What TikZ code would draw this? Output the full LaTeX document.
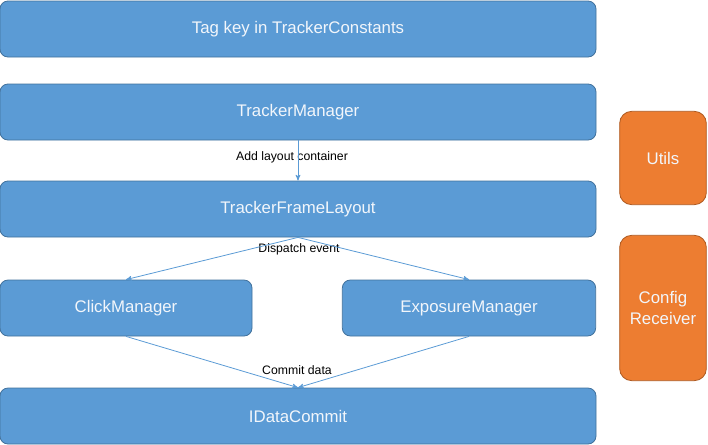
\documentclass[tikz,border=0pt]{standalone}
\usepackage{fontspec}
\setmainfont{Liberation Sans}
\usepackage{xcolor}
\usetikzlibrary{arrows}
\definecolor{boxblue}{HTML}{5B9BD5}
\definecolor{lineblue}{HTML}{41719C}
\definecolor{boxorange}{HTML}{ED7D31}
\definecolor{lineorange}{HTML}{AE5A21}
\definecolor{boxtext}{HTML}{F2F6FB}

\begin{document}
\begin{tikzpicture}[->,>=stealth',x=0.75pt,y=-0.75pt,thin]
                \tikzset{layer/.style={draw=lineblue, fill=boxblue, rounded corners=6pt, text=boxtext, font=\fontsize{12.6}{15}\selectfont, minimum height=42pt, inner sep=0pt, line width=0.6pt},
                         side/.style={draw=lineorange, fill=boxorange, rounded corners=9pt, text=boxtext, font=\fontsize{12.6}{16}\selectfont, minimum width=65pt, align=center, inner sep=0pt, line width=0.6pt},
                         flow/.style={draw=boxblue, line width=0.6pt},
                         note/.style={font=\fontsize{9.2}{11}\selectfont, text=black, inner sep=1pt}}
                \useasboundingbox (0,0) rectangle (708,444);
                \node[layer, minimum width=447pt] (K) at (298,29) {Tag key in TrackerConstants};
                \node[layer, minimum width=447pt] (M) at (298,112) {TrackerManager};
                \node[layer, minimum width=447pt] (F) at (298,209) {TrackerFrameLayout};
                \node[layer, minimum width=189pt] (C) at (126,308) {ClickManager};
                \node[layer, minimum width=190pt] (E) at (469,308) {ExposureManager};
                \node[layer, minimum width=447pt] (D) at (298,416) {IDataCommit};
                \node[side, minimum height=70pt] (U) at (663,158) {Utils};
                \node[side, minimum height=109pt] (R) at (663,308) {Config\\Receiver};
                \node[note] (addlbl) at (292,157) {Add layout container};
                \node[note] (displbl) at (299,249) {Dispatch event};
                \node[note] (comlbl) at (297,370) {Commit data};
                \path (M) edge[flow]              node {} (F);
                \path (F.south) edge[flow]              node {} (C.north);
                \path (F.south) edge[flow]              node {} (E.north);
                \path (C.south) edge[flow]              node {} (D.north);
                \path (E.south) edge[flow]              node {} (D.north);
            \end{tikzpicture}
\end{document}
